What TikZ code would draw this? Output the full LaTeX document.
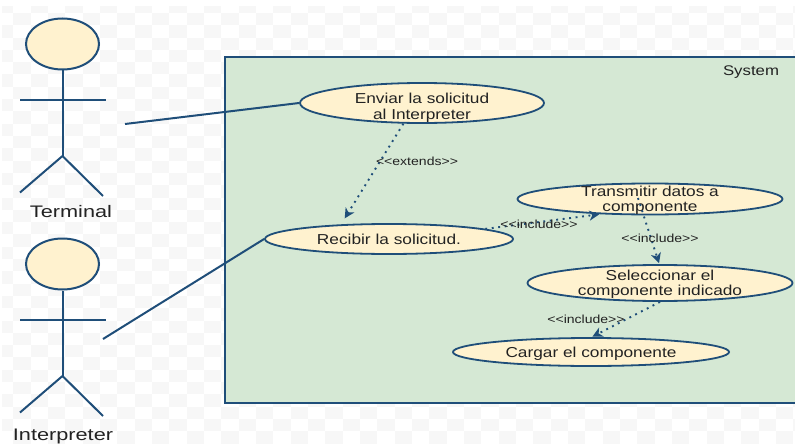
\documentclass[tikz,border=0pt]{standalone}
\usepackage{fontspec}
\setmainfont[FakeStretch=1.2]{Liberation Sans}
\newfontfamily\actorfont[FakeStretch=1.3]{Liberation Sans}
\usetikzlibrary{shapes.geometric}
\usetikzlibrary{calc}
\usetikzlibrary{arrows.meta}
\tikzset{>={Stealth[length=10pt,width=10pt,inset=3pt]}}
\definecolor{umlblue}{HTML}{1F4E79}
\definecolor{umlfill}{HTML}{FFF2CF}
\definecolor{umlgreen}{HTML}{D5E8D4}
\definecolor{umlcheck}{HTML}{F7F7F7}
\definecolor{umltext}{HTML}{222222}
\tikzset{
	usecase/.style={ellipse,draw=umlblue,fill=umlfill,line width=1.8pt,inner xsep=0pt,inner ysep=-6pt,text=umltext,align=center,text depth=0pt,font=\fontsize{14.4}{15.5}\selectfont},
	actorline/.style={draw=umlblue,line width=2pt},
	relation/.style={->,draw=umlblue,line width=1.9pt,dash pattern=on 1.9pt off 4.6pt,shorten >=1pt},
	relationtext/.style={text=umltext,inner sep=0pt,font=\fontsize{11.7}{14}\selectfont},
	actortext/.style={text=umltext,inner sep=0pt,font=\actorfont\fontsize{16.7}{20}\selectfont}
}

\begin{document}
\begin{tikzpicture}[x=1pt,y=-1pt]
	\useasboundingbox (0,0) rectangle (795,444);
	\fill[white] (0,0) rectangle (795,444);
	% checker background
	\begin{scope}
		\clip (2,7) rectangle (795,444);
		\foreach \i in {0,...,46}{
			\foreach \j in {0,...,35}{
				\pgfmathparse{int(mod(\i+\j,2))}
				\ifnum\pgfmathresult=0
					\fill[umlcheck] ({-4+\i*17.33},{0.7+\j*12.3}) rectangle ++(17.33,12.3);
				\fi
			}
		}
	\end{scope}
	% system
	\draw[draw=umlblue,fill=umlgreen,line width=2pt] (224.5,57) rectangle (800,403);
	\node[text=umltext,inner sep=0pt,font=\fontsize{14}{16}\selectfont] (system) at (751,72) {System};
	% actors
	\foreach \name/\yy in {terminal/0,interpreter/220}{
		\begin{scope}[yshift=-\yy pt]
			\node[ellipse,draw=umlblue,fill=umlfill,line width=2pt,minimum width=73pt,minimum height=51pt,inner sep=0pt] (\name head) at (62.5,44) {};
			\draw[actorline] (\name head.south) -- (62.5,156);
			\draw[actorline] (20,99.5) -- (106,99.5);
			\draw[actorline] (20,192.5) -- (62.5,156) -- (103,196);
		\end{scope}
	}
	\node[actortext] (terminal) at (71,212) {Terminal};
	\node[actortext] (interpreter) at (63,436) {Interpreter};
	\coordinate (terminalhand) at (125,124);
	\coordinate (interpreterhand) at (103,339);
	% use cases
	\node[usecase,minimum width=244pt,minimum height=40pt] (enviar) at (422,103) {\rule{0pt}{17pt}Enviar la solicitud\\al Interpreter};
	\node[usecase,minimum width=248pt,minimum height=30pt] (recibir) at (389,239) {Recibir la solicitud.};
	\node[usecase,minimum width=265pt,minimum height=31pt] (transmitir) at (650,199) {Transmitir datos a\\componente};
	\node[usecase,minimum width=265pt,minimum height=36pt] (seleccionar) at (660,283) {Seleccionar el\\componente indicado};
	\node[usecase,minimum width=276pt,minimum height=28pt] (cargar) at (591,352) {Cargar el componente};
	% associations
	\draw[actorline] (terminalhand) -- (enviar.west);
	\draw[actorline] (interpreterhand) -- (recibir.west);
	% relations
	\draw[relation,shorten >=7pt] (enviar.228) -- (recibir.163);
	\draw[relation] (recibir.6) -- (transmitir.197);
	\draw[relation] ($(transmitir.center)+(-12,-1)$) -- (seleccionar.92);
	\draw[relation] (seleccionar.south) -- (cargar.88);
	\node[relationtext] (extends) at (417,161) {<{}<extends>{}>};
	\node[relationtext] (includea) at (539,224) {<{}<include>{}>};
	\node[relationtext] (includeb) at (660,238) {<{}<include>{}>};
	\node[relationtext] (includec) at (586,319) {<{}<include>{}>};
\end{tikzpicture}
\end{document}
